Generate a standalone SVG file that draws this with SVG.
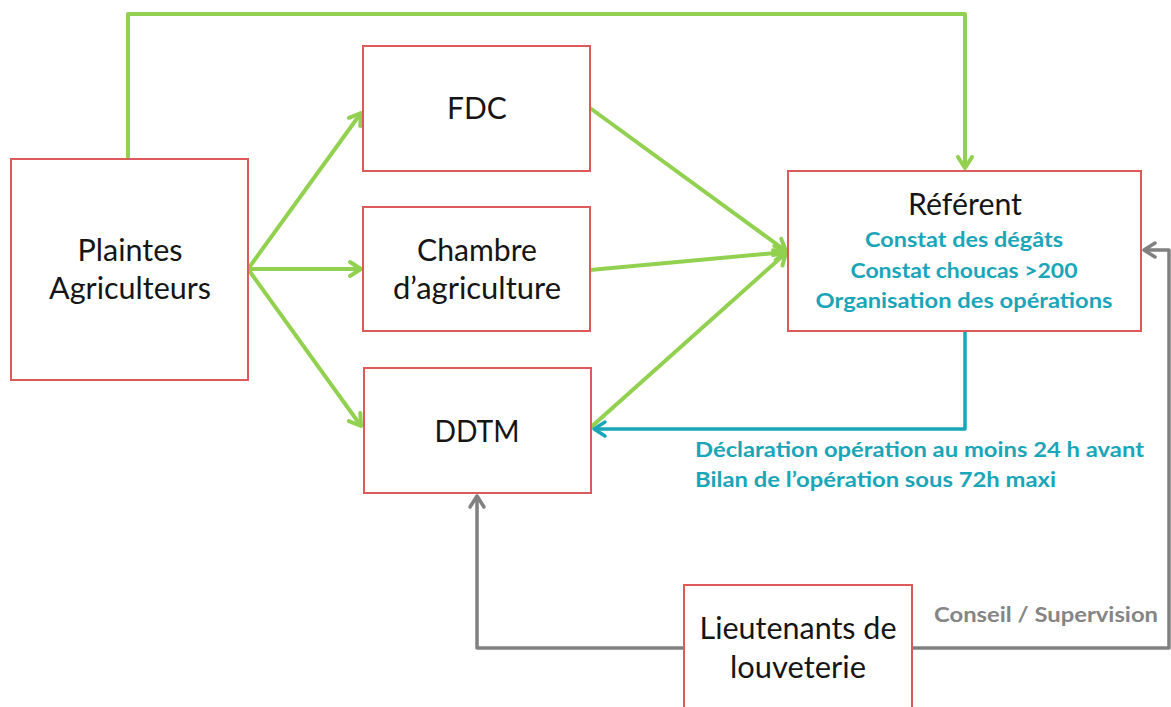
<svg xmlns="http://www.w3.org/2000/svg" width="1171" height="707" viewBox="0 0 1171 707">
<style>
.box{fill:#ffffff;stroke:#DE5A5A;stroke-width:2}
.lbl{font-family:Lato,"Open Sans","Liberation Sans",sans-serif;font-size:30px;fill:#151515;text-anchor:middle}
.tl{font-family:Lato,"Open Sans","Liberation Sans",sans-serif;font-size:20px;font-weight:bold;fill:#1AA5B8}
.tlc{text-anchor:middle}
.gr{font-family:Lato,"Open Sans","Liberation Sans",sans-serif;font-size:20px;font-weight:bold;fill:#858585}
.g{fill:none;stroke:#92D050;stroke-width:4;stroke-linejoin:round}
.t{fill:none;stroke:#1AA5B8;stroke-width:3.5;stroke-linejoin:round}
.k{fill:none;stroke:#808080;stroke-width:3.5;stroke-linejoin:round}
</style>
<defs>
<marker id="ag" markerUnits="userSpaceOnUse" viewBox="-14 -10 18 20" refX="0" refY="0" markerWidth="18" markerHeight="20" orient="auto">
<path d="M-11,-7 L0,0 L-11,7" fill="none" stroke="#92D050" stroke-width="4" stroke-linecap="round" stroke-linejoin="round"/>
</marker>
<marker id="at" markerUnits="userSpaceOnUse" viewBox="-14 -10 18 20" refX="0" refY="0" markerWidth="18" markerHeight="20" orient="auto">
<path d="M-11,-7 L0,0 L-11,7" fill="none" stroke="#1AA5B8" stroke-width="3.5" stroke-linecap="round" stroke-linejoin="round"/>
</marker>
<marker id="ak" markerUnits="userSpaceOnUse" viewBox="-14 -10 18 20" refX="0" refY="0" markerWidth="18" markerHeight="20" orient="auto">
<path d="M-11,-7 L0,0 L-11,7" fill="none" stroke="#808080" stroke-width="3.5" stroke-linecap="round" stroke-linejoin="round"/>
</marker>
</defs>
<rect width="1171" height="707" fill="#ffffff"/>

<g id="connectors">
<polyline class="g" points="128,159 128,14 965,14 965,168" marker-end="url(#ag)"/>
<line class="g" x1="248" y1="269" x2="361" y2="113" marker-end="url(#ag)"/>
<line class="g" x1="248" y1="269" x2="361" y2="269" marker-end="url(#ag)"/>
<line class="g" x1="248" y1="269" x2="361" y2="426" marker-end="url(#ag)"/>
<line class="g" x1="590" y1="108" x2="786" y2="251" marker-end="url(#ag)"/>
<line class="g" x1="590" y1="270" x2="786" y2="252" marker-end="url(#ag)"/>
<line class="g" x1="590" y1="428" x2="786" y2="253" marker-end="url(#ag)"/>
<polyline class="t" points="965,331 965,429 594,429" marker-end="url(#at)"/>
<polyline class="k" points="684,648 477,648 477,496" marker-end="url(#ak)"/>
<polyline class="k" points="912,648 1169,648 1169,250 1144,250" marker-end="url(#ak)"/>
</g>

<g id="plaintes">
<rect class="box" x="11" y="159" width="237" height="221"/>
<text class="lbl" x="130" y="261" textLength="105" lengthAdjust="spacingAndGlyphs">Plaintes</text>
<text class="lbl" x="130" y="299" textLength="162" lengthAdjust="spacingAndGlyphs">Agriculteurs</text>
</g>

<g id="fdc">
<rect class="box" x="363" y="46" width="227" height="125"/>
<text class="lbl" x="477" y="119">FDC</text>
</g>

<g id="chambre">
<rect class="box" x="363" y="207" width="227" height="124"/>
<text class="lbl" x="477" y="261" textLength="120" lengthAdjust="spacingAndGlyphs">Chambre</text>
<text class="lbl" x="477" y="299" textLength="168" lengthAdjust="spacingAndGlyphs">d’agriculture</text>
</g>

<g id="ddtm">
<rect class="box" x="364" y="368" width="227" height="125"/>
<text class="lbl" x="477" y="442" textLength="85" lengthAdjust="spacingAndGlyphs">DDTM</text>
</g>

<g id="referent">
<rect class="box" x="788" y="171" width="353" height="160"/>
<text class="lbl" x="965" y="215" font-size="29" textLength="114" lengthAdjust="spacingAndGlyphs">Référent</text>
<text class="tl tlc" x="964" y="247" textLength="198" lengthAdjust="spacingAndGlyphs">Constat des dégâts</text>
<text class="tl tlc" x="964" y="278" textLength="227" lengthAdjust="spacingAndGlyphs">Constat choucas &gt;200</text>
<text class="tl tlc" x="964" y="308" textLength="297" lengthAdjust="spacingAndGlyphs">Organisation des opérations</text>
</g>

<g id="lieutenants">
<rect class="box" x="684" y="585" width="228" height="140"/>
<text class="lbl" x="798" y="639" textLength="197" lengthAdjust="spacingAndGlyphs">Lieutenants de</text>
<text class="lbl" x="798" y="678" textLength="136" lengthAdjust="spacingAndGlyphs">louveterie</text>
</g>

<g id="labels">
<text class="tl" x="695" y="457" textLength="449" lengthAdjust="spacingAndGlyphs">Déclaration opération au moins 24 h avant</text>
<text class="tl" x="695" y="487" textLength="361" lengthAdjust="spacingAndGlyphs">Bilan de l’opération sous 72h maxi</text>
<text class="gr" x="934" y="622" textLength="224" lengthAdjust="spacingAndGlyphs">Conseil / Supervision</text>
</g>
</svg>
